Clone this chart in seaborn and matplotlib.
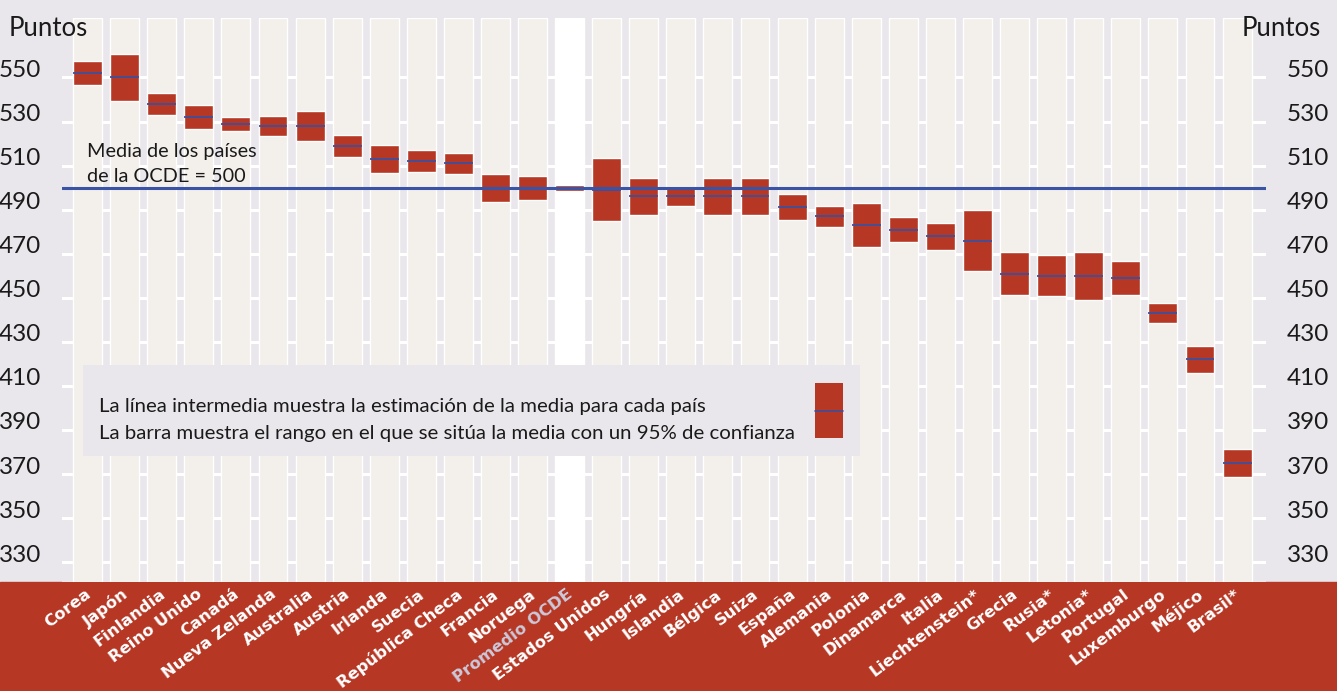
import numpy as np
import pandas as pd
import seaborn as sns
import matplotlib.pyplot as plt
from matplotlib.patches import Rectangle
from matplotlib.lines import Line2D
from matplotlib.transforms import ScaledTranslation, blended_transform_factory

# datos (puntos)
paises = ['Corea', 'Japón', 'Finlandia', 'Reino Unido', 'Canadá', 'Nueva Zelanda',
          'Australia', 'Austria', 'Irlanda', 'Suecia', 'República Checa', 'Francia',
          'Noruega', 'Promedio OCDE', 'Estados Unidos', 'Hungría', 'Islandia', 'Bélgica',
          'Suiza', 'España', 'Alemania', 'Polonia', 'Dinamarca', 'Italia',
          'Liechtenstein*', 'Grecia', 'Rusia*', 'Letonia*', 'Portugal', 'Luxemburgo',
          'Méjico', 'Brasil*']
media = [552, 550, 538, 532, 529, 528, 528, 519, 513, 512, 511, 500, 500, 500, 499, 496,
         496, 496, 496, 491, 487, 483, 481, 478, 476, 461, 460, 460, 459, 443, 422, 375]
inferior = [546.7, 539.2, 533.1, 526.7, 525.9, 523.3, 521.1, 513.9, 506.7, 507.1, 506.3,
            493.7, 494.5, 498.6, 484.7, 487.8, 491.7, 487.6, 487.4, 485.1, 482.3, 473.0,
            475.5, 471.9, 462.1, 451.4, 450.8, 449.0, 451.2, 438.5, 415.7, 368.5]
superior = [557.3, 560.8, 542.9, 537.3, 532.1, 532.7, 534.9, 524.1, 519.3, 516.9, 515.7,
            506.3, 505.5, 501.4, 513.3, 504.2, 500.3, 504.4, 504.6, 496.9, 491.7, 493.0,
            486.5, 484.1, 489.9, 470.6, 469.2, 471.0, 466.8, 447.5, 428.3, 381.5]
ticks_y = list(range(330, 551, 20))

ROJO = '#b53724'
AZUL = '#3d4f9c'
GRIS = '#e9e7eb'
BEIGE = '#f3efeb'

sns.set_theme(style='white')
plt.rcParams['font.family'] = ['Lato', 'DejaVu Sans']

W, H = 1337, 691
fig = plt.figure(figsize=(W / 100, H / 100), dpi=100, facecolor=GRIS)


def fx(px):
    return px / W


def fy(py):
    return 1 - py / H


ax = fig.add_axes([fx(62), fy(582), (1266 - 62) / W, (582 - 18) / H])
ax.set_facecolor(GRIS)
ymin, ymax = 321, 577
x = np.arange(len(paises))

# bandas verticales de fondo
fondo = ['white' if p == 'Promedio OCDE' else BEIGE for p in paises]
ax.bar(x, ymax - ymin, bottom=ymin, width=0.78, color=fondo, zorder=1)

# barras de intervalo de confianza
df = pd.DataFrame({'pais': paises, 'media': media,
                   'inferior': inferior, 'superior': superior})
df['alto'] = df['superior'] - df['inferior']
sns.barplot(data=df, x='pais', y='alto', bottom=df['inferior'].values, color=ROJO,
            width=0.78, saturation=1, errorbar=None, ax=ax, zorder=3)

# media de cada pais
ax.hlines(df['media'], x - 0.39, x + 0.39, color=AZUL, lw=1.3, zorder=4)
ax.axhline(500, color='#3a53a4', lw=2.2, zorder=5)

ax.set_xlim(-0.69, 31.78)
ax.set_ylim(ymin, ymax)
ax.set_yticks(ticks_y)
ax.set_xticks([])
ax.set_xlabel('')
ax.set_ylabel('')
ax.grid(True, axis='y', color='white', lw=2.2)
ax.set_axisbelow(True)
for s in ax.spines.values():
    s.set_visible(False)
ax.tick_params(axis='y', left=False, right=False, labelleft=True, labelright=True,
               labelsize=17.5, pad=9, labelcolor='#1a1a1a')
subir = ScaledTranslation(0, 9 / 100, fig.dpi_scale_trans)
for t in ax.yaxis.get_major_ticks():
    t.label1.set_transform(t.label1.get_transform() + subir)
    t.label2.set_transform(t.label2.get_transform() + subir)

# franja roja inferior con nombres de paises
fig.add_artist(Rectangle((0, 0), 1, fy(582), transform=fig.transFigure,
                         color=ROJO, zorder=-1))
trans = blended_transform_factory(ax.transData, ax.transAxes)
for i, p in enumerate(paises):
    col = '#cdc9da' if p == 'Promedio OCDE' else 'white'
    ax.text(i - 0.08, -0.008, p, transform=trans, rotation=37, ha='right', va='top',
            rotation_mode='anchor', color=col, fontsize=11.8, fontweight='bold',
            family='DejaVu Sans', clip_on=False)

# textos
fig.text(fx(9), fy(28), 'Puntos', ha='left', va='center', fontsize=18.5, color='#1a1a1a')
fig.text(fx(1321), fy(28), 'Puntos', ha='right', va='center', fontsize=18.5, color='#1a1a1a')
fig.text(fx(87), fy(152), 'Media de los países', ha='left', va='center', fontsize=14.3,
         color='#1a1a1a')
fig.text(fx(87), fy(177), 'de la OCDE = 500', ha='left', va='center', fontsize=14.3,
         color='#1a1a1a')

# recuadro de leyenda
fig.add_artist(Rectangle((fx(83), fy(456)), (860 - 83) / W, (456 - 365) / H,
                         transform=fig.transFigure, facecolor=GRIS, edgecolor='none', zorder=1))
fig.add_artist(Rectangle((fx(815), fy(438)), 28 / W, (438 - 383) / H,
                         transform=fig.transFigure, facecolor=ROJO, edgecolor='none', zorder=2))
fig.add_artist(Line2D([fx(815), fx(843)], [fy(411), fy(411)], transform=fig.transFigure,
                      color=AZUL, lw=1.2, zorder=2.5))
fig.text(fx(99), fy(407), 'La línea intermedia muestra la estimación de la media para cada país',
         ha='left', va='center', fontsize=14.7, color='#1a1a1a')
fig.text(fx(99), fy(433), 'La barra muestra el rango en el que se sitúa la media con un 95% de confianza',
         ha='left', va='center', fontsize=14.7, color='#1a1a1a')

fig.savefig('out.png', dpi=100, facecolor=GRIS)
